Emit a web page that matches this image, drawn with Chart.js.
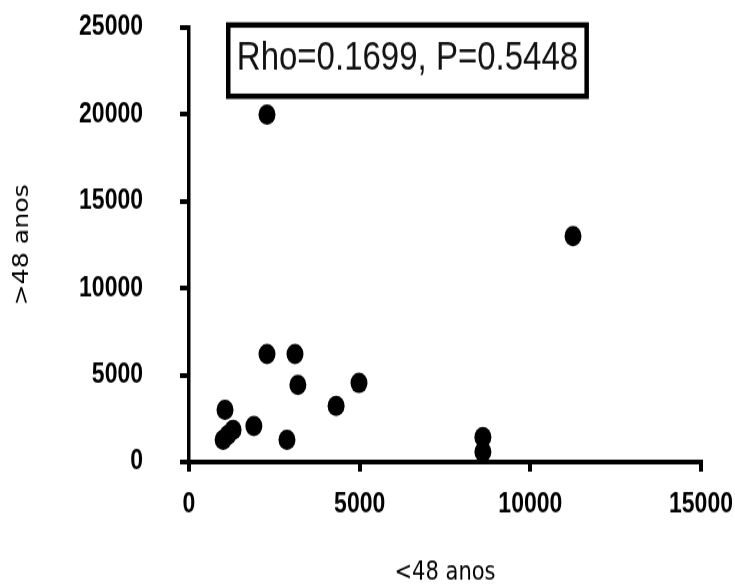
<!DOCTYPE html>
<html>
<head>
<meta charset="utf-8">
<script src="https://cdn.jsdelivr.net/npm/chart.js@4/dist/chart.umd.min.js"></script>
<style>
  html, body { margin: 0; padding: 0; background: #fff; }
  #frame { width: 735px; height: 586px; overflow: hidden; }
  #wrap { width: 735px; height: 488px; }
  /* the original picture is stretched vertically, so the chart is drawn at 488px and scaled */
  #scatter { transform: scale(1, 1.2); transform-origin: 0 0; }
</style>
</head>
<body>
<div id="frame"><div id="wrap"><canvas id="scatter"></canvas></div></div>
<script>
// values
const youngerValues = [2285, 11250, 2285, 3105, 3190, 4980, 4310, 1055, 1900, 1000, 1140, 1290, 2870, 8610, 8610];
const olderValues   = [20000, 13000, 6220, 6220, 4440, 4550, 3230, 3000, 2070, 1270, 1550, 1840, 1270, 1440, 580];
const xTickValues = [0, 5000, 10000, 15000];
const yTickValues = [0, 5000, 10000, 15000, 20000, 25000];
const statsLabel = 'Rho=0.1699, P=0.5448';
const xTitle = '<48 anos';
const yTitle = '>48 anos';

const points = youngerValues.map((x, i) => ({ x: x, y: olderValues[i] }));

// box with the correlation result, placed by data coordinates
const statsBox = {
    id: 'statsBox',
    afterDraw(chart, args, opts) {
        const ctx = chart.ctx;
        const xs = chart.scales.x, ys = chart.scales.y;
        const left = xs.getPixelForValue(opts.xMin);
        const right = xs.getPixelForValue(opts.xMax);
        const top = ys.getPixelForValue(opts.yMax);
        const bottom = ys.getPixelForValue(opts.yMin);
        ctx.save();
        ctx.fillStyle = '#fff';
        ctx.fillRect(left, top, right - left, bottom - top);
        ctx.lineWidth = 4.5;
        ctx.strokeStyle = '#000';
        ctx.strokeRect(left, top, right - left, bottom - top);
        ctx.fillStyle = '#111';
        ctx.font = '33px "Liberation Sans", Arial, sans-serif';
        ctx.textAlign = 'center';
        ctx.textBaseline = 'middle';
        ctx.fillText(opts.text, (left + right) / 2, (top + bottom) / 2 - 2);
        ctx.restore();
    }
};

const tickFont = { family: '"Liberation Sans", Arial, sans-serif', size: 23, weight: 'bold' };
const titleFont = { family: '"DejaVu Sans", sans-serif', size: 21, lineHeight: 1 };
const plainNumber = (v) => String(v);

new Chart(document.getElementById('scatter').getContext('2d'), {
    type: 'scatter',
    data: {
        datasets: [{
            label: 'amostras',
            data: points,
            backgroundColor: '#000',
            borderWidth: 0,
            pointRadius: 8.5,
            pointHoverRadius: 8.5
        }]
    },
    options: {
        responsive: true,
        maintainAspectRatio: false,
        animation: false,
        layout: { padding: { left: 0, right: 34, top: 23, bottom: 0 } },
        plugins: {
            legend: { display: false },
            tooltip: { enabled: false },
            statsBox: { text: statsLabel, xMin: 1150, xMax: 11650, yMin: 21050, yMax: 25150 }
        },
        scales: {
            x: {
                type: 'linear',
                min: 0,
                max: 15000,
                afterBuildTicks: (scale) => { scale.ticks = xTickValues.map(v => ({ value: v })); },
                afterFit: (scale) => {
                    scale.height = 103;
                    scale.paddingLeft = 0;
                    scale.paddingRight = 0;
                },
                ticks: { color: '#000', font: tickFont, padding: 14, maxRotation: 0, callback: plainNumber },
                grid: { drawOnChartArea: false, color: '#000', lineWidth: 4, tickLength: 8 },
                border: { display: true, color: '#000', width: 4 },
                title: { display: true, text: xTitle, color: '#000', font: titleFont, padding: { top: 0, bottom: 0 } }
            },
            y: {
                type: 'linear',
                min: 0,
                max: 25000,
                afterBuildTicks: (scale) => { scale.ticks = yTickValues.map(v => ({ value: v })); },
                afterFit: (scale) => {
                    scale.width = 189;
                    scale.paddingTop = 0;
                    scale.paddingBottom = 0;
                },
                ticks: { color: '#000', font: tickFont, padding: 37, callback: plainNumber },
                grid: { drawOnChartArea: false, color: '#000', lineWidth: 4, tickLength: 9 },
                border: { display: true, color: '#000', width: 3.5 },
                title: { display: true, text: yTitle, color: '#000', font: titleFont, padding: { top: 12, bottom: 0 } }
            }
        }
    },
    plugins: [statsBox]
});
</script>
</body>
</html>
